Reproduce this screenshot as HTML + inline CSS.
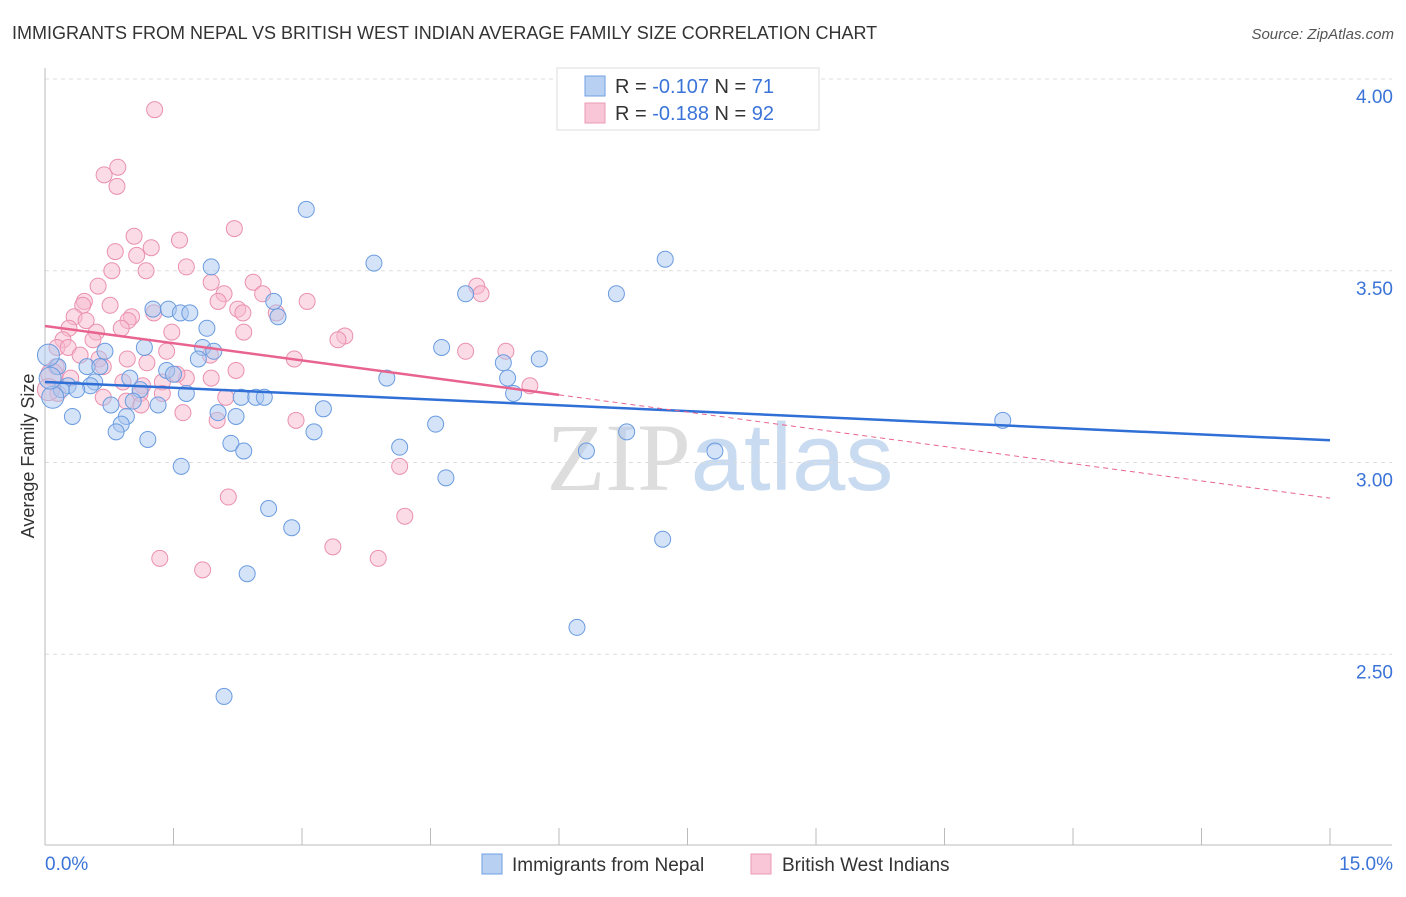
<!DOCTYPE html>
<html><head><meta charset="utf-8"><style>
body{margin:0;background:#fff;font-family:"Liberation Sans",sans-serif;}
svg text{font-family:"Liberation Sans",sans-serif;}
</style></head><body>
<svg id="chart" width="1406" height="892" viewBox="0 0 1406 892" xmlns="http://www.w3.org/2000/svg">
<text x="12" y="39" font-size="18" fill="#333">IMMIGRANTS FROM NEPAL VS BRITISH WEST INDIAN AVERAGE FAMILY SIZE CORRELATION CHART</text>
<text x="1394" y="39" font-size="15" fill="#555" text-anchor="end" font-style="italic">Source: ZipAtlas.com</text>
<text x="720" y="490" font-size="96" text-anchor="middle"><tspan fill="#ddd" font-family="Liberation Serif">ZIP</tspan><tspan fill="#c9dbf0">atlas</tspan></text>
<g id="grid"></g><g id="axes"></g><g id="pts"></g><g id="trend"></g>
<text transform="translate(34,456) rotate(-90)" font-size="18" fill="#333" text-anchor="middle">Average Family Size</text>
<g>
<rect x="557" y="68" width="262" height="62" fill="#fff" stroke="#ddd"/>
<rect x="585" y="76" width="20" height="20" fill="#b8d0f2" stroke="#6f9fe0"/>
<rect x="585" y="103" width="20" height="20" fill="#f8c6d6" stroke="#eb9ab5"/>
<text x="615" y="93" font-size="20" fill="#333">R = <tspan fill="#3b74d8">-0.107</tspan>    N = <tspan fill="#3b74d8"> 71</tspan></text>
<text x="615" y="120" font-size="20" fill="#333">R = <tspan fill="#3b74d8">-0.188</tspan>    N = <tspan fill="#3b74d8">92</tspan></text>
</g>
<g>
<rect x="482" y="854" width="20" height="20" fill="#b8d0f2" stroke="#6f9fe0"/>
<text x="512" y="871" font-size="19" fill="#333">Immigrants from Nepal</text>
<rect x="751" y="854" width="20" height="20" fill="#f8c6d6" stroke="#eb9ab5"/>
<text x="782" y="871" font-size="19" fill="#333">British West Indians</text>
</g>
</svg>
<script>
const blueX=[3.05,3.84,1.94,7.24,6.67,4.91,2.67,2.72,1.26,1.44,1.58,1.69,1.89,1.84,1.97,1.16,0.70,4.63,5.77,5.35,1.79,0.49,0.64,0.15,1.42,1.50,3.99,5.40,0.58,0.99,0.27,0.53,0.37,0.19,0.09,1.11,1.65,2.29,2.46,2.56,5.47,0.77,1.03,1.32,3.25,2.02,2.23,0.32,0.95,0.89,0.83,4.56,3.14,6.79,1.20,2.17,2.32,4.14,6.32,7.82,11.18,1.59,4.68,2.61,2.88,7.21,2.36,6.21,2.09,0.06,0.04];
const blueY=[3.66,3.52,3.51,3.53,3.44,3.44,3.42,3.38,3.40,3.40,3.39,3.39,3.35,3.30,3.29,3.30,3.29,3.30,3.27,3.26,3.27,3.25,3.25,3.25,3.24,3.23,3.22,3.22,3.21,3.22,3.20,3.20,3.19,3.19,3.17,3.19,3.18,3.17,3.17,3.17,3.18,3.15,3.16,3.15,3.14,3.13,3.12,3.12,3.12,3.10,3.08,3.10,3.08,3.08,3.06,3.05,3.03,3.04,3.03,3.03,3.11,2.99,2.96,2.88,2.83,2.80,2.71,2.57,2.39,3.22,3.28];
const pinkX=[1.28,0.85,0.69,0.84,2.21,1.04,1.57,1.24,0.82,1.07,1.65,1.18,0.78,2.43,1.94,0.62,2.09,2.54,5.04,5.09,0.46,0.44,2.02,3.06,0.76,2.25,2.31,1.27,1.01,2.70,0.97,0.34,0.48,0.28,0.60,0.89,3.50,3.42,2.32,1.48,0.56,0.21,0.14,0.27,0.41,1.42,4.91,5.38,0.63,0.96,1.19,1.93,2.91,0.13,0.68,2.23,1.65,1.54,1.37,1.94,0.91,0.08,0.30,5.66,1.14,1.11,0.15,0.68,1.37,2.11,0.95,1.12,1.61,2.93,2.01,4.14,2.14,4.20,3.36,1.34,3.89,1.84,0.04];
const pinkY=[3.92,3.77,3.75,3.72,3.61,3.59,3.58,3.56,3.55,3.54,3.51,3.50,3.50,3.47,3.47,3.46,3.44,3.44,3.46,3.44,3.42,3.41,3.42,3.42,3.41,3.40,3.39,3.39,3.38,3.39,3.37,3.38,3.37,3.35,3.34,3.35,3.33,3.32,3.34,3.34,3.32,3.32,3.30,3.30,3.28,3.29,3.29,3.29,3.27,3.27,3.26,3.28,3.27,3.25,3.25,3.24,3.22,3.23,3.21,3.22,3.21,3.23,3.22,3.20,3.20,3.18,3.18,3.17,3.18,3.17,3.16,3.15,3.13,3.11,3.11,2.99,2.91,2.86,2.78,2.75,2.75,2.72,3.19];
const yTicks=[4.0,3.5,3.0,2.5];
const yTickLabels=["4.00","3.50","3.00","2.50"];
const xTicks=[0,1.5,3,4.5,6,7.5,9,10.5,12,13.5,15];
const blueTrend=[3.21,3.058];
const pinkTrend=[3.356,2.907];
const pinkSolidEnd=6.0;
const NS='http://www.w3.org/2000/svg';
const sx=v=>45+v/15*1285;
const sy=v=>79+(4-v)*383.5;
function mk(tag,attrs,parent){const e=document.createElementNS(NS,tag);for(const k in attrs)e.setAttribute(k,attrs[k]);document.getElementById(parent).appendChild(e);return e;}
yTicks.forEach((t,i)=>{
 const l=mk('line',{x1:45,x2:1392,y1:sy(t),y2:sy(t),stroke:'#ddd','stroke-dasharray':'4,4'},'grid');
 
 
 const tx=mk('text',{x:1393,y:sy(t)+24,'font-size':19,fill:'#3b74d8','text-anchor':'end'},'grid');
 tx.textContent=yTickLabels[i];
 
 
});
let a=mk('line',{x1:45,x2:45,y1:68,y2:845,stroke:'#bbb'},'axes');


a=mk('line',{x1:45,x2:1392,y1:845,y2:845,stroke:'#bbb'},'axes');


xTicks.forEach(t=>{const l=mk('line',{x1:sx(t),x2:sx(t),y1:828,y2:845,stroke:'#bbb'},'axes');
 
 });
let t1=mk('text',{x:45,y:870,'font-size':19,fill:'#3b74d8'},'axes');t1.textContent='0.0%';


let t2=mk('text',{x:1393,y:870,'font-size':19,fill:'#3b74d8','text-anchor':'end'},'axes');t2.textContent='15.0%';


function pts(xs,ys,fill,stroke,name){xs.forEach((x,i)=>{const big=x<0.1;const c=mk('circle',{cx:sx(x),cy:sy(ys[i]),r:big?11:8,fill:fill,'fill-opacity':0.5,stroke:stroke,'stroke-width':1},'pts');
 
 });}
pts(pinkX,pinkY,'#f7b9cd','#ea90ae','point-british-west-indians');
pts(blueX,blueY,'#a9c7f0','#6a9be0','point-nepal');
let bl=mk('line',{x1:sx(0),y1:sy(blueTrend[0]),x2:sx(15),y2:sy(blueTrend[1]),stroke:'#2f6fd6','stroke-width':2.5},'trend');


const pAt=x=>pinkTrend[0]+(pinkTrend[1]-pinkTrend[0])*x/15;
let pl=mk('line',{x1:sx(0),y1:sy(pAt(0)),x2:sx(pinkSolidEnd),y2:sy(pAt(pinkSolidEnd)),stroke:'#e8648f','stroke-width':2.5},'trend');


let pd=mk('line',{x1:sx(pinkSolidEnd),y1:sy(pAt(pinkSolidEnd)),x2:sx(15),y2:sy(pAt(15)),stroke:'#e8648f','stroke-width':1,'stroke-dasharray':'5,4'},'trend');


</script>
</body></html>
